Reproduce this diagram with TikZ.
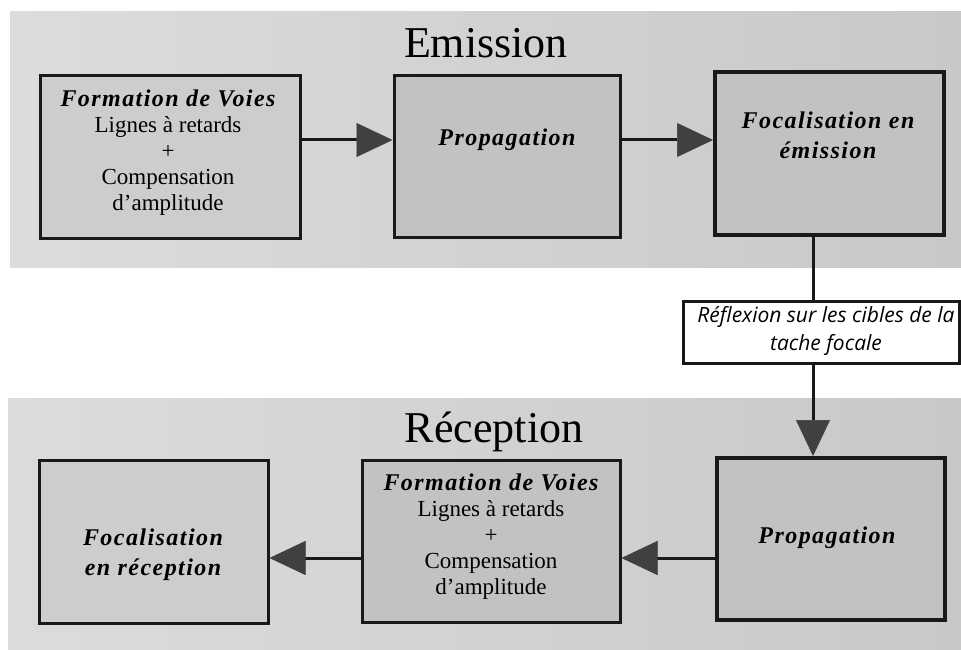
\documentclass[tikz,border=0pt]{standalone}
\usepackage{fontspec}
\setmainfont{Liberation Serif}
\newfontfamily\spacedfont[LetterSpace=6]{Liberation Serif}
\newfontfamily\reffont{Open Sans}
\usetikzlibrary{arrows.meta}
\definecolor{bandL}{HTML}{DCDCDC}
\definecolor{bandR}{HTML}{C8C8C8}
\definecolor{boxfill}{HTML}{CDCDCD}
\definecolor{boxdark}{HTML}{C2C2C2}
\definecolor{tipgray}{HTML}{404040}
\newcommand{\bitxt}[1]{{\spacedfont\fontsize{24}{26}\selectfont\bfseries\itshape #1}}
\tikzset{
  blockbox/.style={draw=black!90, line width=3pt, fill=boxfill, inner sep=0pt},
  heavybox/.style={blockbox, line width=4pt, fill=boxdark},
  boxtext/.style={align=center, inner sep=0pt, font=\fontsize{23}{26}\selectfont},
  titletext/.style={inner sep=0pt, anchor=base, font=\fontsize{44}{50}\selectfont},
  conn/.style={draw=black!90, line width=3pt},
  arr/.style={conn, -{Triangle[length=36pt,width=34pt,line width=0.5pt,color=tipgray]}}
}
\begin{document}
\begin{tikzpicture}[x=1pt,y=-1pt]
\useasboundingbox (0,0) rectangle (961,650);
\fill[white] (0,0) rectangle (961,650);
% background bands
\shade[left color=bandL, right color=bandR] (10,12) rectangle (961,267);
\shade[left color=bandL, right color=bandR] (8,398) rectangle (961,650);

% titles
\node[titletext] (emi) at (486,58) {Emission};
\node[titletext] (rec) at (494,442) {Réception};

% top row
\node[blockbox, minimum width=260pt, minimum height=162pt] (b1) at (170,157) {};
\node[boxtext] (t1) at (168,153) {\bitxt{Formation de Voies}\\Lignes à retards\\+\\Compensation\\d\char"27 amplitude};
\node[blockbox, fill=boxdark, minimum width=226pt, minimum height=161pt] (b2) at (507,156.5) {};
\node[boxtext] (t2) at (507,140) {\bitxt{Propagation}};
\node[heavybox, minimum width=229pt, minimum height=163pt] (b3) at (829.5,153.5) {};
\node[boxtext, font=\fontsize{23}{30}\selectfont] (t3) at (828,135) {\bitxt{Focalisation en}\\\bitxt{émission}};

% reflection box
\node[draw=black!90, line width=3pt, fill=white, minimum width=276pt, minimum height=62pt, inner sep=0pt] (refl) at (821,332) {};
\node[align=center, inner sep=0pt, font=\reffont\itshape\fontsize{21}{28}\selectfont] (treflect) at (826,331) {Réflexion sur les cibles de la\\tache focale};

% bottom row
\node[blockbox, minimum width=229pt, minimum height=163pt] (r1) at (153.5,541.5) {};
\node[boxtext, font=\fontsize{23}{30}\selectfont] (tr1) at (153,555) {\bitxt{Focalisation}\\\bitxt{en réception}};
\node[blockbox, fill=boxdark, minimum width=258pt, minimum height=162pt] (r2) at (491,541) {};
\node[boxtext] (tr2) at (491,537) {\bitxt{Formation de Voies}\\Lignes à retards\\+\\Compensation\\d\char"27 amplitude};
\node[heavybox, minimum width=228pt, minimum height=162pt] (r3) at (831,539) {};
\node[boxtext] (tr3) at (827,538) {\bitxt{Propagation}};

% connectors
\draw[arr] ([yshift=17pt]b1.east) -- ([yshift=17pt]b1.east -| b2.west);
\draw[arr] ([yshift=16.5pt]b2.east) -- ([yshift=16.5pt]b2.east -| b3.west);
\draw[conn] ([xshift=-16.5pt]b3.south) -- ([xshift=-16.5pt]b3.south |- refl.north);
\draw[arr] ([xshift=-16.5pt]b3.south |- refl.south) -- ([xshift=-16.5pt]b3.south |- r3.north);
\draw[arr] ([yshift=-19pt]r3.west) -- ([yshift=-19pt]r3.west -| r2.east);
\draw[arr] ([yshift=-17pt]r2.west) -- ([yshift=-17pt]r2.west -| r1.east);
\end{tikzpicture}
\end{document}
